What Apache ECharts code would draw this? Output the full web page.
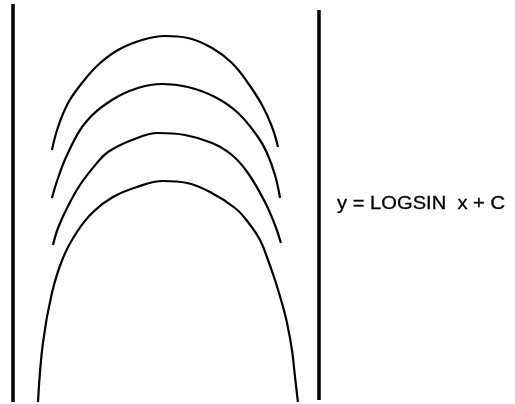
<!DOCTYPE html>
<html>
<head>
<meta charset="utf-8">
<script src="https://cdn.jsdelivr.net/npm/echarts@6/dist/echarts.min.js"></script>
<style>
  html, body { margin: 0; padding: 0; background: #fff; }
  #chart { width: 515px; height: 404px; }
</style>
</head>
<body>
<div id="chart"></div>
<script>
// x in degrees (0..180), y = log sin x + C in plot units
var curve1X = [22.9, 26.5, 32.4, 40.6, 50, 61.8, 75.9, 89.4, 102.9, 117.1, 128.8, 138.2, 146.5, 152.4, 155.9];
var curve1Y = [-1.48, -1.25, -1.01, -0.81, -0.63, -0.48, -0.38, -0.34, -0.36, -0.46, -0.61, -0.81, -1.03, -1.25, -1.45];

var curve2X = [22.9, 26.5, 31.8, 42.4, 58.2, 73.5, 87.6, 102.9, 118.8, 132.4, 144.1, 149.4, 154.1, 157.1];
var curve2Y = [-1.96, -1.76, -1.53, -1.21, -0.98, -0.86, -0.82, -0.85, -0.95, -1.11, -1.35, -1.51, -1.73, -1.96];

var curve3X = [23.5, 26.5, 31.8, 39.4, 49.4, 55.9, 70, 85.3, 101.2, 117.1, 128.8, 138.2, 148.2, 154.1, 157.6];
var curve3Y = [-2.43, -2.26, -2.06, -1.83, -1.61, -1.5, -1.38, -1.31, -1.33, -1.41, -1.53, -1.71, -2.0, -2.23, -2.41];

var curve4X = [14.7, 17.6, 22.9, 29.4, 37.6, 47.1, 58.8, 72.9, 88.2, 102.4, 115.9, 130.6, 138.2, 145.3, 150, 154.1, 158.2, 161.2, 164.1, 165.9, 167.6];
var curve4Y = [-4.0, -3.41, -2.91, -2.56, -2.3, -2.1, -1.95, -1.85, -1.79, -1.81, -1.9, -2.06, -2.2, -2.38, -2.58, -2.78, -3.01, -3.21, -3.48, -3.75, -4.0];

// vertical asymptotes at x = 0 and x = 180
var leftAsymptote = [[0, -0.02], [0, -4]];
var rightAsymptote = [[180, -0.08], [180, -3.98]];

var labelText = "y = LOGSIN  x + C";

function pairs(xs, ys) {
  return xs.map(function (x, i) { return [x, ys[i]]; });
}

var chart = echarts.init(document.getElementById("chart"));

function curve(xs, ys) {
  return {
    type: "line",
    data: pairs(xs, ys),
    smooth: 0.4,
    showSymbol: false,
    lineStyle: { color: "#000", width: 2.2 },
  };
}

function wall(data) {
  return {
    type: "line",
    data: data,
    showSymbol: false,
    lineStyle: { color: "#000", width: 3.5 },
  };
}

chart.setOption({
  animation: false,
  backgroundColor: "#fff",
  grid: { left: 13, top: 2, width: 306, height: 400 },
  xAxis: { type: "value", min: 0, max: 180, show: false },
  yAxis: { type: "value", min: -4, max: 0, show: false },
  graphic: [
    {
      type: "text",
      x: 337,
      y: 204,
      scaleX: 1.12,
      style: {
        text: labelText,
        fontSize: 18,
        fontFamily: "Liberation Sans",
        fill: "#000",
        stroke: "#000",
        lineWidth: 0.3,
        verticalAlign: "middle",
      },
    },
  ],
  series: [
    curve(curve1X, curve1Y),
    curve(curve2X, curve2Y),
    curve(curve3X, curve3Y),
    curve(curve4X, curve4Y),
    wall(leftAsymptote),
    wall(rightAsymptote),
  ],
});
</script>
</body>
</html>
